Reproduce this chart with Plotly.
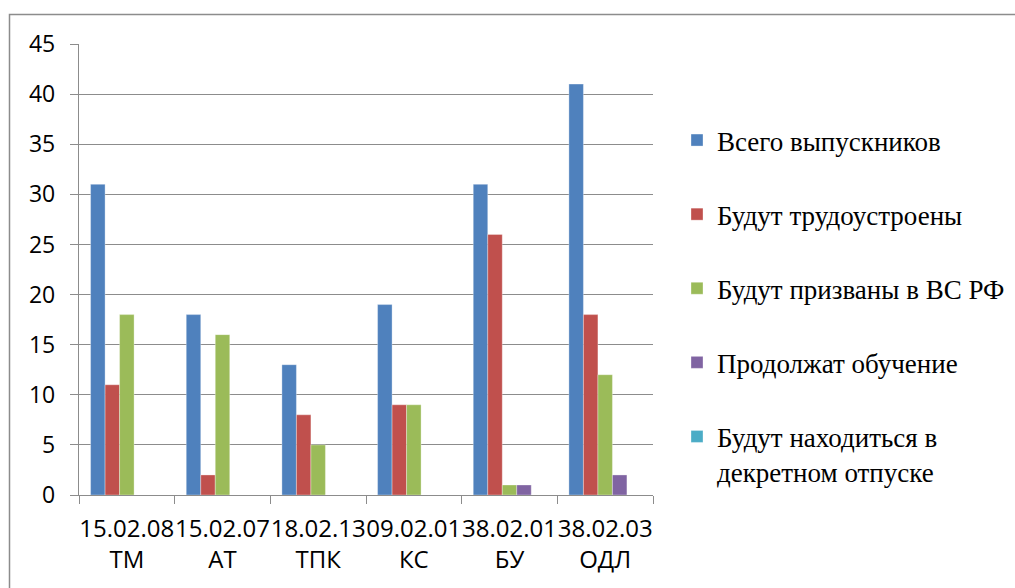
import plotly.graph_objects as go

categories = ["15.02.08<br>ТМ", "15.02.07<br>АТ", "18.02.13<br>ТПК", "09.02.01<br>КС", "38.02.01<br>БУ", "38.02.03<br>ОДЛ"]
series_names = ["Всего выпускников", "Будут трудоустроены", "Будут призваны в ВС РФ",
                "Продолжат обучение", "Будут находиться в<br>декретном отпуске"]
total = [31, 18, 13, 19, 31, 41]
employed = [11, 2, 8, 9, 26, 18]
army = [18, 16, 5, 9, 1, 12]
study = [0, 0, 0, 0, 1, 2]
maternity = [0, 0, 0, 0, 0, 0]
y_ticks = list(range(0, 50, 5))

colors = ["#4F81BD", "#C0504D", "#9BBB59", "#8064A2", "#4BACC6"]
values = [total, employed, army, study, maternity]

W, H = 1015, 588
L, R, T, B = 79, 653, 44, 495

fig = go.Figure()
for i, (name, vals, col) in enumerate(zip(series_names, values, colors)):
    fig.add_trace(go.Bar(
        x=categories, y=vals, name=name, legendgroup=f"g{i}",
        marker=dict(color=col, line=dict(color="rgba(255,255,255,0.55)", width=0.6)),
    ))

grid = "#8c8c8c"
fig.update_layout(
    width=W, height=H, autosize=False,
    margin=dict(l=L, r=W - R, t=T, b=H - B, pad=0, autoexpand=False),
    paper_bgcolor="white", plot_bgcolor="white",
    barmode="group", bargap=0.242, bargroupgap=0,
    font=dict(family="Open Sans", size=22, color="#000000"),
    legend=dict(
        font=dict(family="Liberation Serif", size=27, color="#000000"),
        traceorder="grouped", tracegroupgap=36, valign="top",
        xref="container", yref="container",
        x=677 / W, y=1 - 116 / H, xanchor="left", yanchor="top",
        maxheight=560,
        bgcolor="rgba(0,0,0,0)",
    ),
    xaxis=dict(
        type="category", showgrid=False, showline=True, linecolor=grid, linewidth=1.3,
        ticks="outside", tickson="boundaries", ticklen=8, tickcolor=grid, tickwidth=1.3,
        ticklabelstandoff=12, tickangle=0, automargin=False,
        tickfont=dict(family="Open Sans", size=24),
    ),
    yaxis=dict(
        range=[0, 45], tickvals=y_ticks, showgrid=True, gridcolor=grid, gridwidth=1.3,
        showline=True, linecolor=grid, linewidth=1.3, zeroline=False,
        ticks="outside", ticklen=8, tickcolor=grid, tickwidth=1.3,
        ticklabelstandoff=10, automargin=False, tickfont=dict(family="Open Sans", size=23),
    ),
)

# outer chart border (extends beyond the visible area on right/bottom)
def px_x(px):
    return (px - L) / (R - L)

def px_y(py):
    return (B - py) / (B - T)

fig.add_shape(type="rect", xref="paper", yref="paper",
              x0=px_x(9.5), x1=px_x(1030), y0=px_y(14.5), y1=px_y(620),
              line=dict(color=grid, width=1.5), fillcolor="rgba(0,0,0,0)", layer="below")

fig.write_html("out.html", config={"displayModeBar": False},
               post_script="document.body.style.margin='0';")
